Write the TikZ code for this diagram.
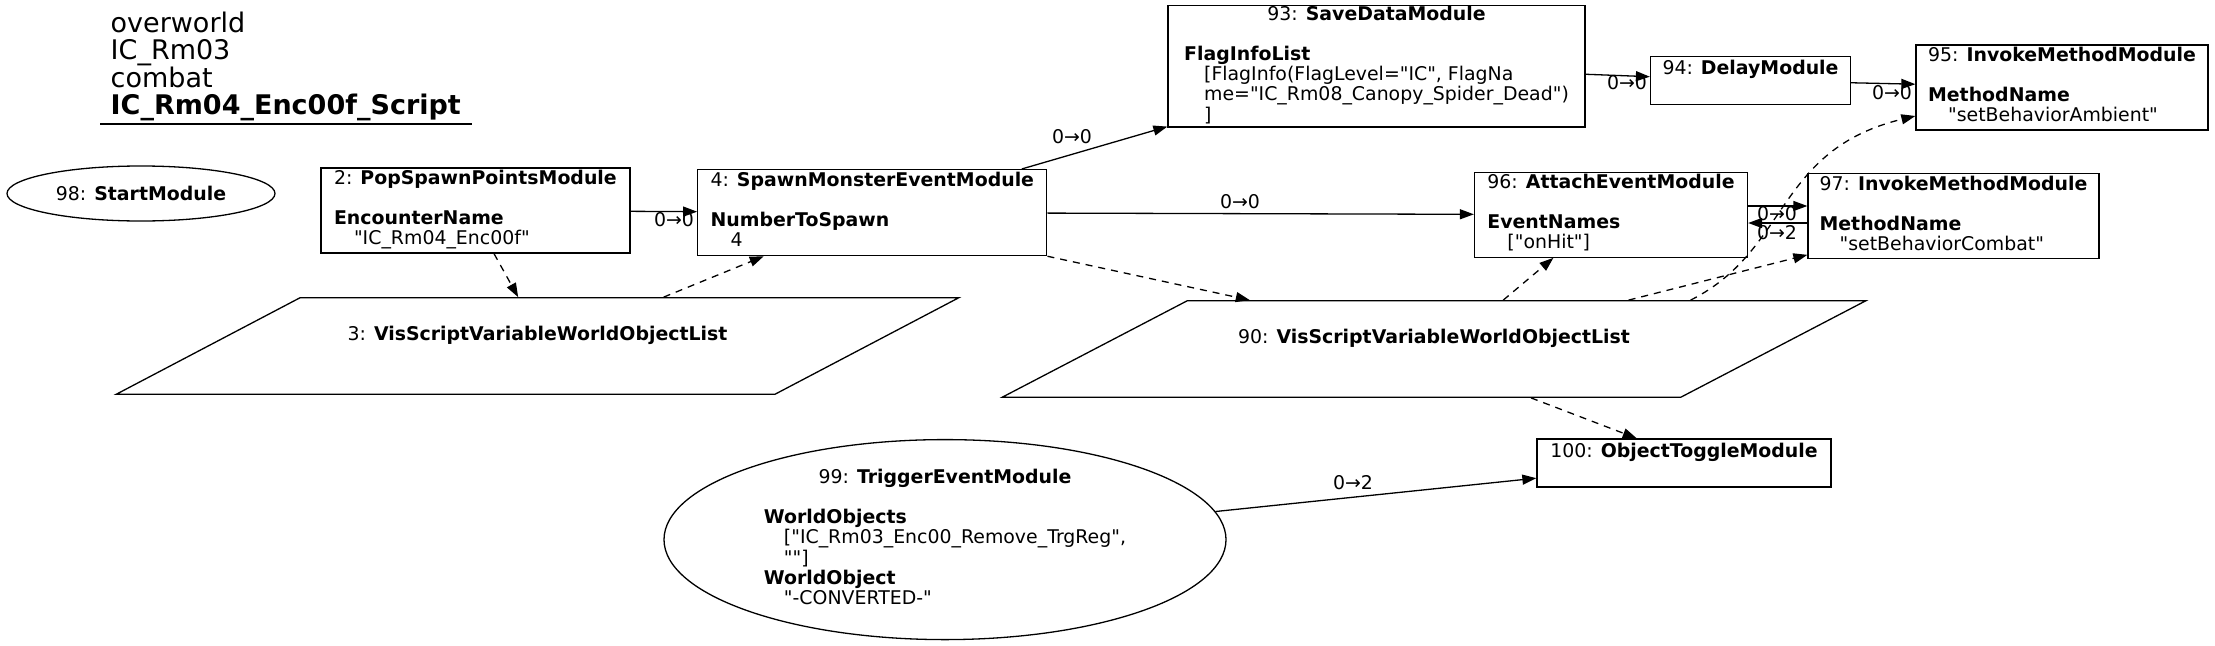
\documentclass[tikz,border=0pt]{standalone}
\usepackage{fontspec}
\newfontfamily\djv{DejaVu Sans}
\usetikzlibrary{shapes.geometric,arrows.meta,calc}

\newcommand{\modfont}{\djv\fontsize{18.9}{19.8}\selectfont}
\newcommand{\mhead}[2]{\multicolumn{1}{@{}c@{}}{#1: \textbf{#2}}}
\newcommand{\ind}{\hspace*{20pt}}

\begin{document}
\begin{tikzpicture}[
    x=1pt, y=-1pt,
    module/.style={draw, rectangle, line width=1.3pt, inner sep=0pt, font=\modfont},
    startnode/.style={draw, ellipse, line width=1.3pt, inner sep=0pt, font=\modfont},
    varlist/.style={draw, trapezium, trapezium left angle=33.3, trapezium right angle=146.7,
        trapezium stretches=true, line width=1.3pt, inner xsep=0pt, inner ysep=28.2pt, font=\modfont},
    link/.style={line width=1.3pt, -{Triangle[length=14pt,width=10pt]}},
    ref/.style={link, dash pattern=on 7pt off 6pt},
    lbl/.style={font=\modfont, inner sep=0pt}
]
\useasboundingbox (0,0) rectangle (2215,645);

% title
\node[font=\djv\fontsize{27}{26.8}\selectfont, align=left, anchor=south west, inner xsep=10.5pt, inner ysep=3pt]
    (ttl) at (100,124) {overworld\\IC\_Rm03\\combat\\\textbf{IC\_Rm04\_Enc00f\_Script}};
\draw[line width=1.3pt] (ttl.south west) -- (ttl.south east);

% modules
\node[startnode, minimum width=268pt, minimum height=55pt] (n98) at (141,193.5) {98: \textbf{StartModule}};

\node[module, minimum width=309pt, minimum height=85pt] (n2) at (475.4,210.5)
    {\begin{tabular}{@{}l@{}}\mhead{2}{PopSpawnPointsModule}\\ \\ \textbf{EncounterName}\\ \ind"IC\_Rm04\_Enc00f"\end{tabular}};

\node[module, minimum width=349pt, minimum height=86pt] (n4) at (872.3,212.6)
    {\begin{tabular}{@{}l@{}}\mhead{4}{SpawnMonsterEventModule}\\ \\ \textbf{NumberToSpawn}\\ \ind 4\end{tabular}};

\node[varlist, minimum width=845pt] (n3) at (537.5,346)
    {\begin{tabular}{@{}c@{}}3: \textbf{VisScriptVariableWorldObjectList}\\ \\\end{tabular}};

\node[module, minimum width=417pt, minimum height=121pt] (n93) at (1376.5,66.4)
    {\begin{tabular}{@{}l@{}}\mhead{93}{SaveDataModule}\\ \\ \textbf{FlagInfoList}\\
     \ind[FlagInfo(FlagLevel="IC", FlagNa\\ \ind me="IC\_Rm08\_Canopy\_Spider\_Dead")\\ \ind]\end{tabular}};

\node[module, minimum width=200pt, minimum height=48pt] (n94) at (1750.5,80.5)
    {\begin{tabular}{@{}l@{}}\mhead{94}{DelayModule}\\ \\\end{tabular}};

\node[module, minimum width=292pt, minimum height=85pt] (n95) at (2062,87.5)
    {\begin{tabular}{@{}l@{}}\mhead{95}{InvokeMethodModule}\\ \\ \textbf{MethodName}\\ \ind"setBehaviorAmbient"\end{tabular}};

\node[module, minimum width=273pt, minimum height=85pt] (n96) at (1611,214.7)
    {\begin{tabular}{@{}l@{}}\mhead{96}{AttachEventModule}\\ \\ \textbf{EventNames}\\ \ind["onHit"]\end{tabular}};

\node[module, minimum width=291pt, minimum height=85pt] (n97) at (1953.5,216)
    {\begin{tabular}{@{}l@{}}\mhead{97}{InvokeMethodModule}\\ \\ \textbf{MethodName}\\ \ind"setBehaviorCombat"\end{tabular}};

\node[varlist, minimum width=869pt] (n90) at (1434,349)
    {\begin{tabular}{@{}c@{}}90: \textbf{VisScriptVariableWorldObjectList}\\ \\\end{tabular}};

\node[module, minimum width=294pt, minimum height=48pt] (n100) at (1684,463)
    {\begin{tabular}{@{}l@{}}\mhead{100}{ObjectToggleModule}\\ \\\end{tabular}};

\node[startnode, minimum width=562pt, minimum height=200pt] (n99) at (945,539.6)
    {\begin{tabular}{@{}l@{}}\mhead{99}{TriggerEventModule}\\ \\ \textbf{WorldObjects}\\
     \ind["IC\_Rm03\_Enc00\_Remove\_TrgReg",\\ \ind""]\\ \textbf{WorldObject}\\ \ind"-CONVERTED-"\end{tabular}};

% flow
\draw[link] (n2) -- (n4);
\draw[link] (n4) -- (n93);
\draw[link] (n4) -- (n96);
\draw[link] (n93) -- (n94);
\draw[link] (n94) -- (n95);
\draw[link] ([yshift=8.7pt]n96.east) -- ([yshift=8.7pt]n96.east -| n97.west);
\draw[link] ([yshift=-8.3pt]n96.east -| n97.west) -- ([yshift=-8.3pt]n96.east);
\draw[link] (n99) -- (n100);

\node[lbl] (l1) at (674,220) {0→0};
\node[lbl] (l2) at (1072,137) {0→0};
\node[lbl] (l3) at (1240,202) {0→0};
\node[lbl] (l4) at (1627,83) {0→0};
\node[lbl] (l5) at (1892,93) {0→0};
\node[lbl] (l6) at (1777,214) {0→0};
\node[lbl] (l7) at (1777,233) {0→2};
\node[lbl] (l8) at (1353,483) {0→2};

% variable links
\draw[ref] ($(n2.south west)!0.56!(n2.south east)$) -- ($(n3.top left corner)!0.33!(n3.top right corner)$);
\draw[ref] ($(n3.top left corner)!0.55!(n3.top right corner)$) -- ($(n4.south west)!0.19!(n4.south east)$);
\draw[ref] (n4.south east) -- ($(n90.top left corner)!0.092!(n90.top right corner)$);
\draw[ref] ($(n90.top left corner)!0.464!(n90.top right corner)$) -- ($(n96.south west)!0.29!(n96.south east)$);
\draw[ref] ($(n90.top left corner)!0.648!(n90.top right corner)$) -- ($(n97.south west)!0.05!(n97.north west)$);
\draw[ref] ($(n90.top left corner)!0.739!(n90.top right corner)$) .. controls (1790,250) and (1775,150) .. ($(n95.south west)!0.17!(n95.north west)$);
\draw[ref] ($(n90.bottom left corner)!0.78!(n90.bottom right corner)$) -- ($(n100.north west)!0.34!(n100.north east)$);

\end{tikzpicture}
\end{document}
